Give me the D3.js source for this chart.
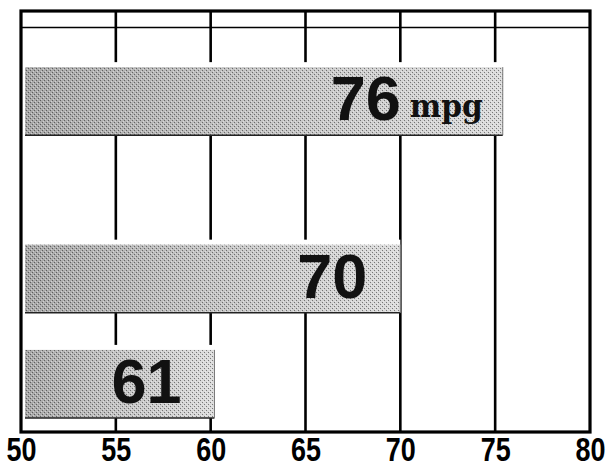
<!DOCTYPE html>
<html>
<head>
<meta charset="utf-8">
<script src="https://cdn.jsdelivr.net/npm/d3@7"></script>
<style>
  html, body { margin: 0; padding: 0; background: #fff; }
  svg { display: block; }
</style>
</head>
<body>
<svg id="chart" width="606" height="468"></svg>
<script>
// ---- data ----
const categories = ["A", "B", "C"];          // unlabeled rows, top to bottom
const values     = [75.4, 70, 60.2];         // bar ends as drawn on the x scale
const valueLabels = ["76", "70", "61"];      // printed numbers on the bars
const unitLabels  = ["mpg", "", ""];
const rowTop      = [0.8, 3.33, 4.83];       // row positions on the row scale (0..6)
const rowHeight   = 0.97;
const xTicks      = [50, 55, 60, 65, 70, 75, 80];
const gridTicks   = [55, 60, 65, 70, 75];
const xDomain     = [50, 80];

// ---- layout ----
const mLeft = 21, mRight = 590, mTop = 11, mBottom = 432;
const svg = d3.select("#chart");

const x = d3.scaleLinear().domain(xDomain).range([mLeft, mRight]);
const y = d3.scaleLinear().domain([0, 6]).range([mTop, mBottom]);

// defs: shading + stipple
const defs = svg.append("defs");
const grad = defs.append("linearGradient").attr("id", "shade")
  .attr("x1", 0).attr("x2", 1).attr("y1", 0).attr("y2", 0);
grad.append("stop").attr("offset", "0%").attr("stop-color", "#a8a8a8");
grad.append("stop").attr("offset", "45%").attr("stop-color", "#c2c2c2");
grad.append("stop").attr("offset", "100%").attr("stop-color", "#dcdcdc");

const pat = defs.append("pattern").attr("id", "stip")
  .attr("patternUnits", "userSpaceOnUse").attr("width", 4).attr("height", 4);
pat.append("rect").attr("x", 0).attr("y", 0).attr("width", 1).attr("height", 1).attr("fill", "#000");
pat.append("rect").attr("x", 2).attr("y", 2).attr("width", 1).attr("height", 1).attr("fill", "#000");
pat.append("rect").attr("x", 1).attr("y", 3).attr("width", 1).attr("height", 1).attr("fill", "#fff");
pat.append("rect").attr("x", 3).attr("y", 1).attr("width", 1).attr("height", 1).attr("fill", "#fff");

// vertical grid lines
svg.append("g").selectAll("line").data(gridTicks).join("line")
  .attr("x1", d => x(d)).attr("x2", d => x(d))
  .attr("y1", mTop).attr("y2", mBottom)
  .attr("stroke", "#000").attr("stroke-width", 2.6);

// top thin horizontal rule
svg.append("line")
  .attr("x1", mLeft).attr("x2", mRight)
  .attr("y1", y(0.235)).attr("y2", y(0.235))
  .attr("stroke", "#000").attr("stroke-width", 1.6);

// bars
const bars = svg.append("g").selectAll("g").data(categories).join("g");
const bx0 = x(xDomain[0]) + 4;
bars.append("rect") // white halo above bar
  .attr("x", bx0 - 2).attr("y", (d, i) => y(rowTop[i]) - 5)
  .attr("width", (d, i) => x(values[i]) - bx0 + 2)
  .attr("height", (d, i) => y(rowTop[i] + rowHeight) - y(rowTop[i]) + 5)
  .attr("fill", "#fff");
bars.append("rect")
  .attr("x", bx0).attr("y", (d, i) => y(rowTop[i]))
  .attr("width", (d, i) => x(values[i]) - bx0)
  .attr("height", (d, i) => y(rowTop[i] + rowHeight) - y(rowTop[i]))
  .attr("fill", "url(#shade)");
bars.append("rect")
  .attr("x", bx0).attr("y", (d, i) => y(rowTop[i]))
  .attr("width", (d, i) => x(values[i]) - bx0)
  .attr("height", (d, i) => y(rowTop[i] + rowHeight) - y(rowTop[i]))
  .attr("fill", "url(#stip)").attr("opacity", 0.45);
bars.append("line") // dark bottom edge
  .attr("x1", bx0).attr("x2", (d, i) => x(values[i]))
  .attr("y1", (d, i) => y(rowTop[i] + rowHeight)).attr("y2", (d, i) => y(rowTop[i] + rowHeight))
  .attr("stroke", "#222").attr("stroke-width", 1.6);
bars.append("line") // faint right edge
  .attr("x1", (d, i) => x(values[i])).attr("x2", (d, i) => x(values[i]))
  .attr("y1", (d, i) => y(rowTop[i])).attr("y2", (d, i) => y(rowTop[i] + rowHeight))
  .attr("stroke", "#777").attr("stroke-width", 1);

// value labels
const mid = i => (y(rowTop[i]) + y(rowTop[i] + rowHeight)) / 2;
bars.append("text")
  .attr("x", (d, i) => x(values[i]) - (unitLabels[i] ? 102 : 33))
  .attr("y", (d, i) => mid(i) + 19)
  .attr("text-anchor", "end")
  .attr("font-family", "'Liberation Sans', Arial, sans-serif")
  .attr("font-weight", "bold").attr("font-size", 63)
  .attr("fill", "#111")
  .text((d, i) => valueLabels[i]);
bars.filter((d, i) => unitLabels[i] !== "").append("text")
  .attr("x", (d, i) => x(values[i]) - 93)
  .attr("y", (d, i) => mid(i) + 16)
  .attr("font-family", "'DejaVu Serif', serif")
  .attr("font-weight", "bold").attr("font-size", 32)
  .attr("textLength", 73).attr("lengthAdjust", "spacingAndGlyphs")
  .attr("fill", "#111")
  .text((d, i) => unitLabels[i]);

// frame
svg.append("rect")
  .attr("x", mLeft).attr("y", mTop)
  .attr("width", mRight - mLeft).attr("height", mBottom - mTop)
  .attr("fill", "none").attr("stroke", "#000").attr("stroke-width", 3.2);

// x axis labels
const axis = svg.append("g").attr("transform", `translate(0,${mBottom})`)
  .call(d3.axisBottom(x).tickValues(xTicks).tickSize(0).tickFormat(d3.format("d")));
axis.select(".domain").remove();
axis.selectAll("text")
  .attr("y", 0).attr("dy", null)
  .attr("transform", "translate(0,29) scale(0.87,1.05)")
  .attr("font-family", "'Liberation Sans', Arial, sans-serif")
  .attr("font-weight", "bold").attr("font-size", 31)
  .attr("fill", "#000");
</script>
</body>
</html>
